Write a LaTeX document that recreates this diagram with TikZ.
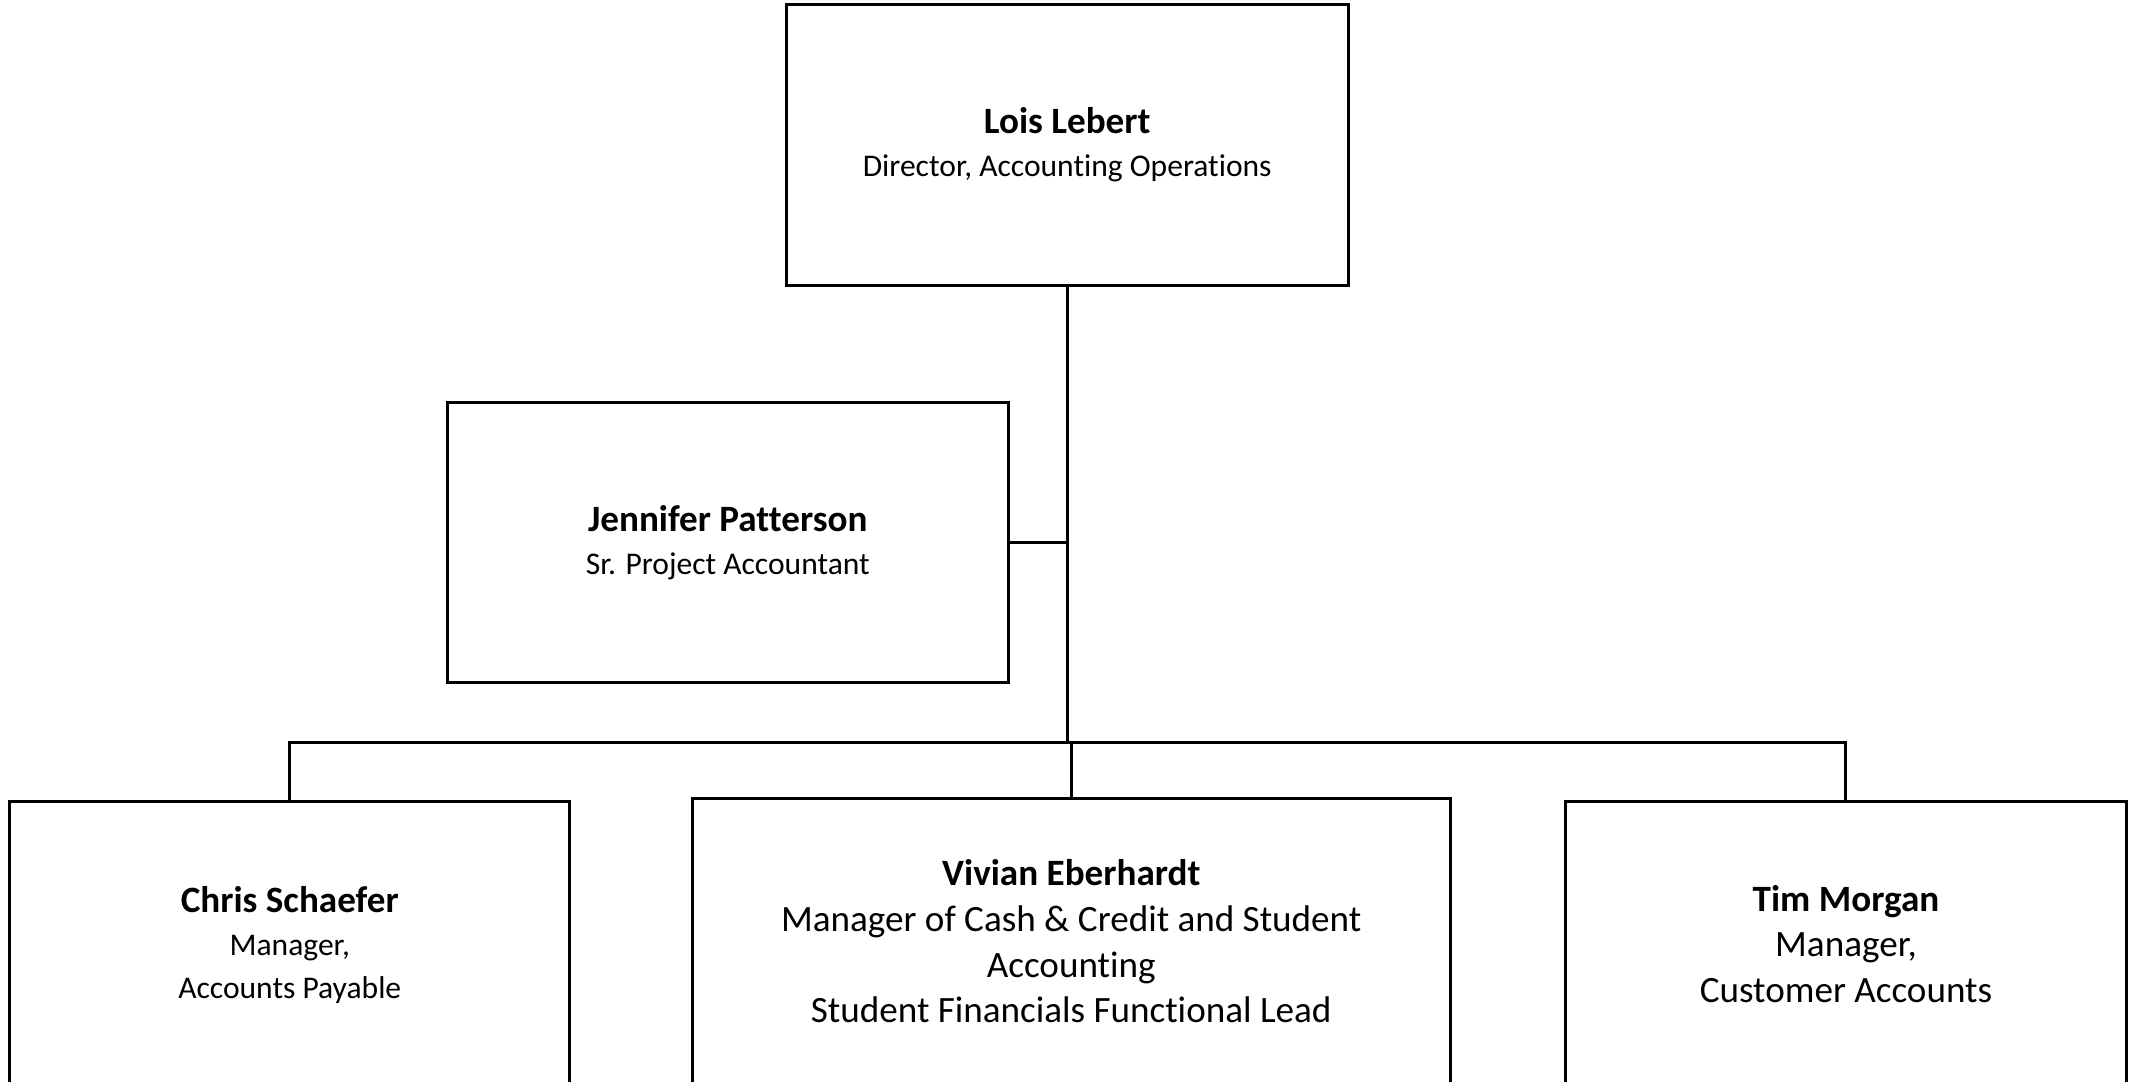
\documentclass[tikz,border=0pt]{standalone}
\usepackage{fontspec}
\setmainfont{Carlito}[Ligatures=NoCommon]
\newcommand{\pname}[1]{{\fontsize{13.65}{16}\selectfont\bfseries #1}}
\begin{document}
\begin{tikzpicture}[x=0.5pt,y=-0.5pt,
  box/.style={draw, line width=1.1pt, rectangle, inner sep=0pt, outer sep=0pt, align=center},
  smalltext/.style={font=\fontsize{11.6}{15.8}\selectfont},
  largetext/.style={font=\fontsize{13.65}{16.75}\selectfont},
  link/.style={line width=1.1pt}]
\useasboundingbox (0,0) rectangle (1568,795);
\node[box, smalltext, minimum width=206.5pt, minimum height=103.5pt] (lois) at (784.5,106.5)
  {\pname{Lois Lebert}\\Director, Accounting Operations};
\node[box, smalltext, minimum width=206pt, minimum height=103pt] (jen) at (535,399)
  {\pname{Jennifer Patterson}\\Sr. Project Accountant};
\node[box, smalltext, minimum width=206pt, minimum height=106pt] (chris) at (213,695)
  {\pname{Chris Schaefer}\\Manager,\\Accounts Payable};
\node[box, largetext, minimum width=278.5pt, minimum height=105pt] (viv) at (787.5,692)
  {\pname{Vivian Eberhardt}\\Manager of Cash \& Credit and Student\\Accounting\\Student Financials Functional Lead};
\node[box, largetext, minimum width=206pt, minimum height=105pt] (tim) at (1357,694)
  {\pname{Tim Morgan}\\Manager,\\Customer Accounts};
\coordinate (j) at (785,546);
\draw[link] (lois.south) -- (lois.south |- j);
\draw[link] (jen.east) -- (jen.east -| lois.south);
\draw[link] (chris.north) -- (chris.north |- j) -- (tim.north |- j) -- (tim.north);
\draw[link] (viv.north) -- (viv.north |- j);
\end{tikzpicture}
\end{document}
